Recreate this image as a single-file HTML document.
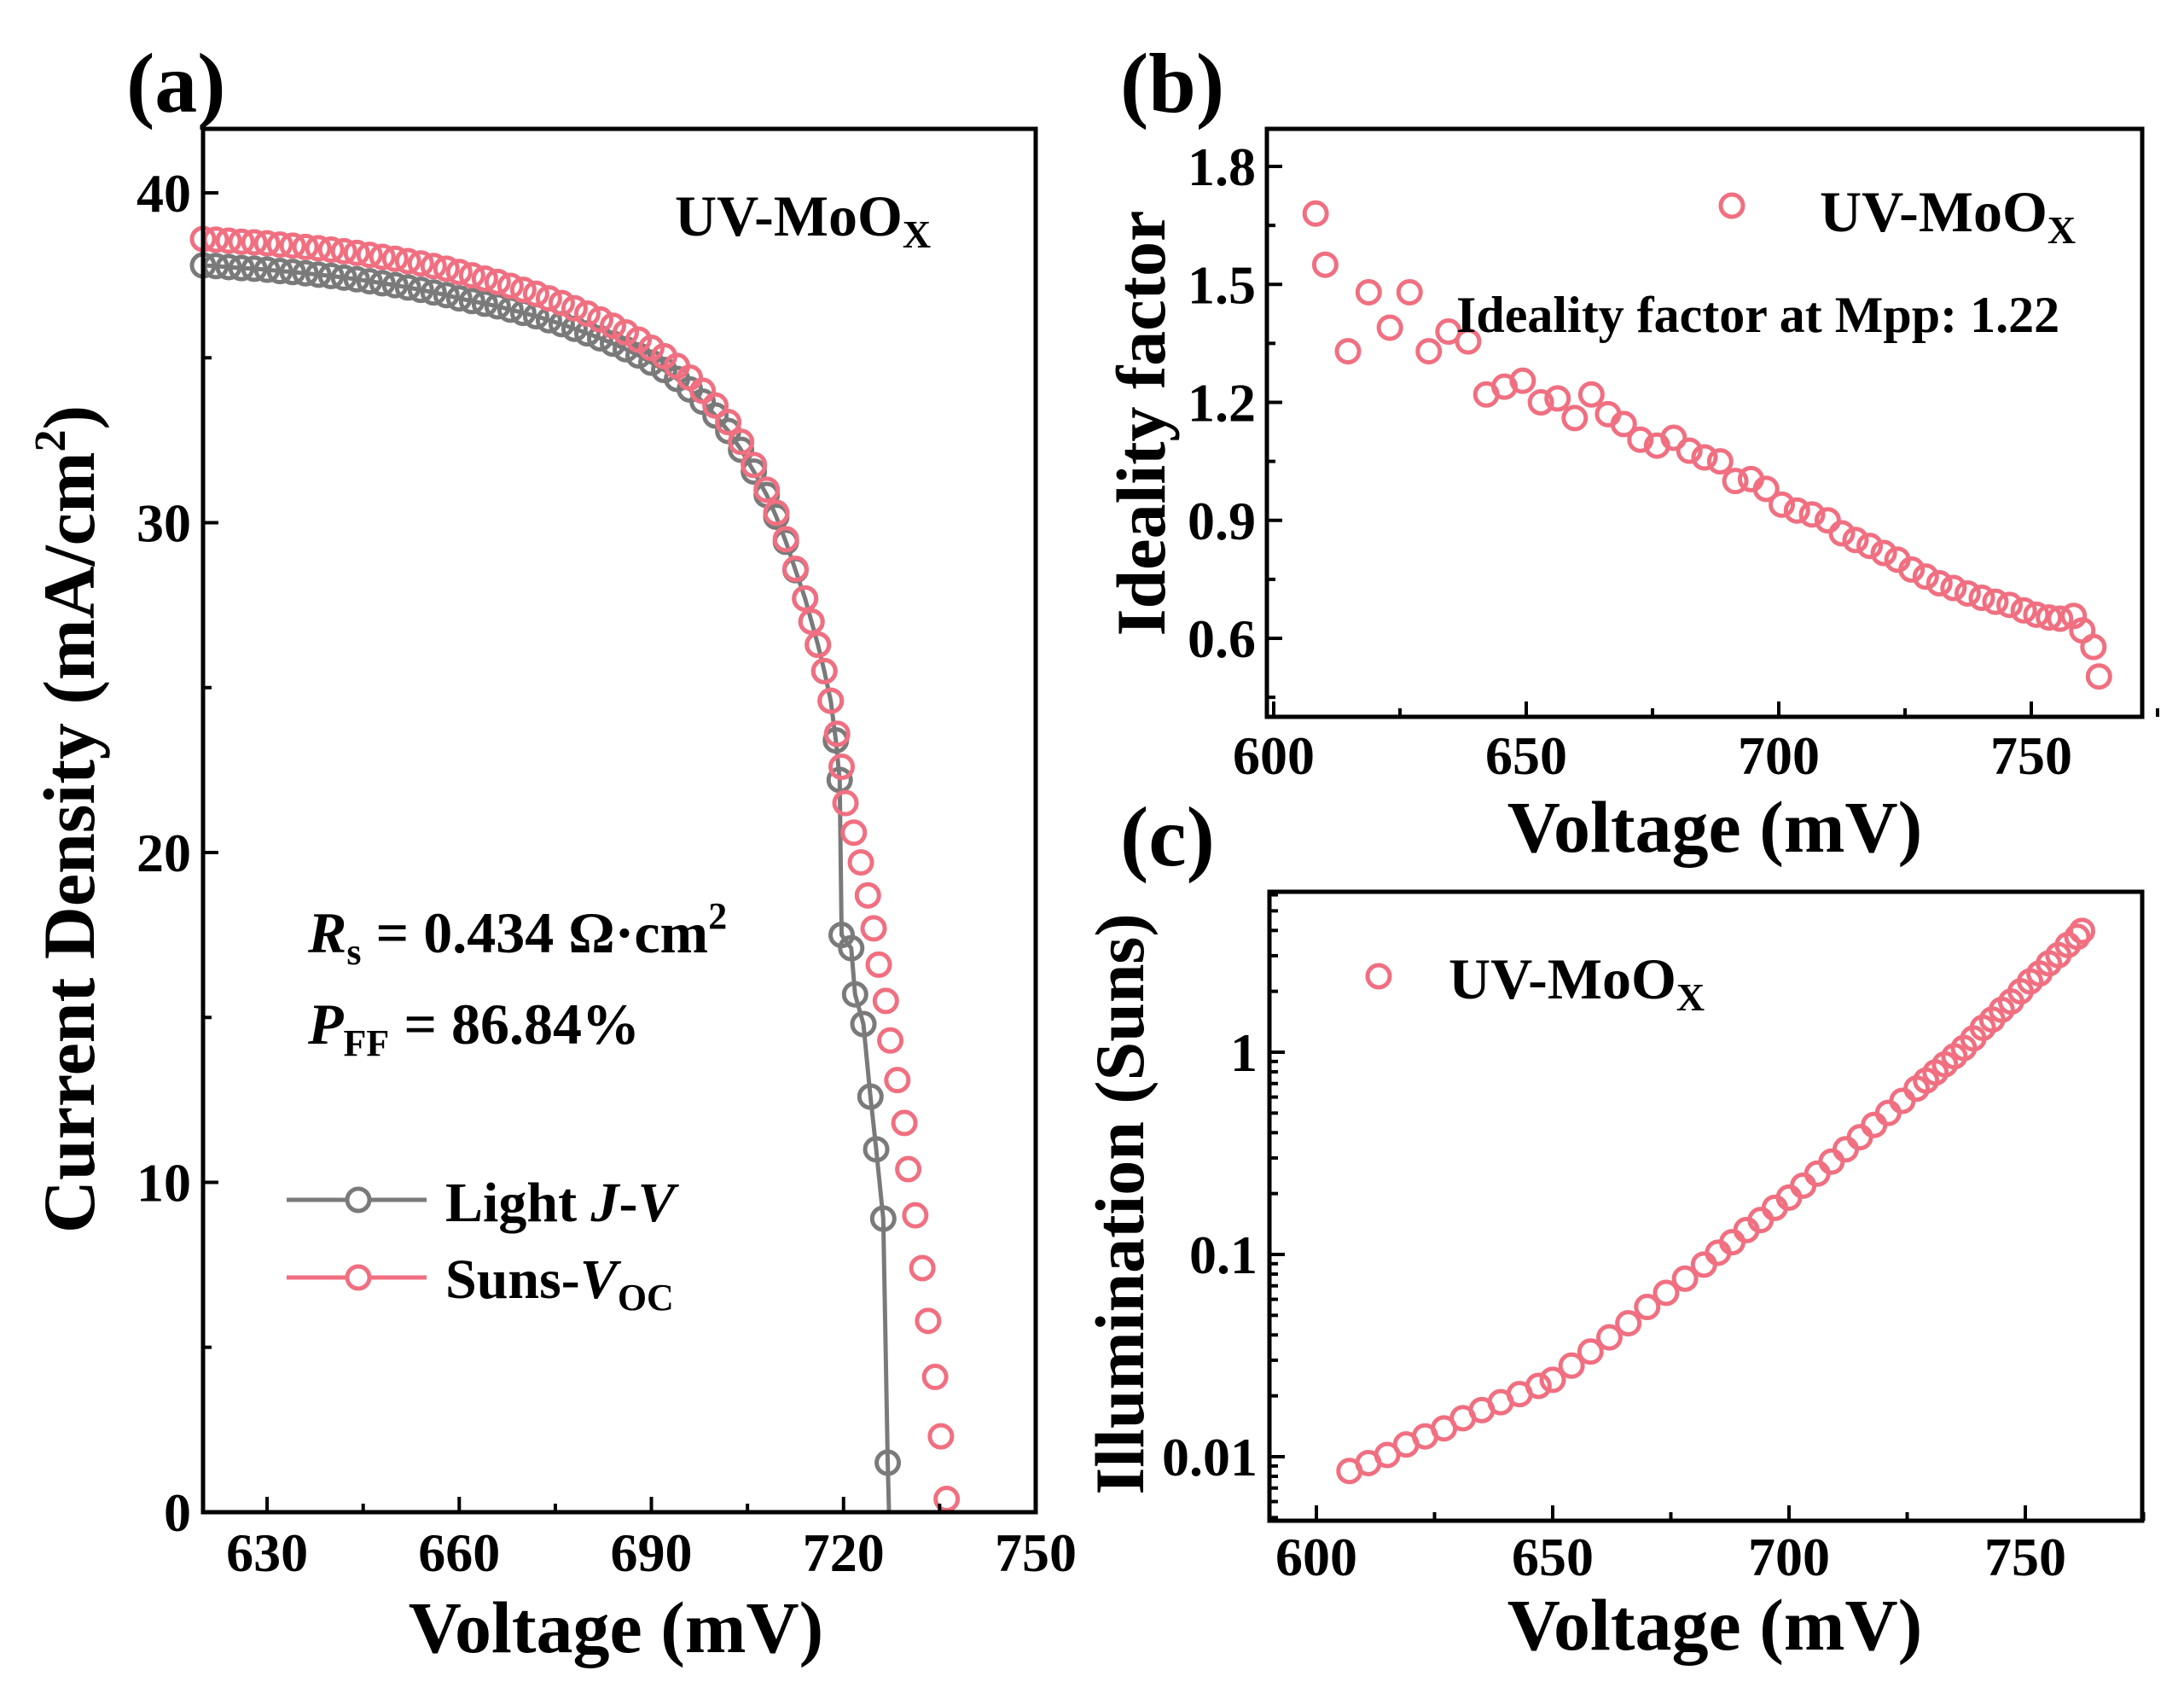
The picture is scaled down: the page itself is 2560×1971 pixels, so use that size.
<!DOCTYPE html>
<html><head><meta charset="utf-8">
<style>
html,body{margin:0;padding:0;background:#fff;}
svg{display:block;font-family:"Liberation Serif",serif;font-weight:bold;}
</style></head>
<body>
<svg id="fig" width="2560" height="1971" viewBox="0 0 2560 1971" xmlns="http://www.w3.org/2000/svg">
<text x="148" y="131" font-size="100">(a)</text>
<text x="1313" y="131" font-size="100">(b)</text>
<text x="1313" y="1014" font-size="100">(c)</text>
</svg>
<script>
// Panel (a) data
const jvPinkV=[620,622,624,626,628,630,632,634,636,638,640,642,644,646,648,650,652,654,656,658,660,662,664,666,668,670,672,674,676,678,680,682,684,686,688,690,692,694,696,698,700,702,704,706,708,709.5,711,712.5,714,715,716,717,718,719,719.7,720.3,721.6,722.7,723.8,724.7,725.5,726.6,727.3,728.4,729.5,730.1,731.2,732.3,733.2,734.3,735.2,736.1];
const jvPinkJ=[38.6,38.58,38.55,38.52,38.5,38.47,38.43,38.4,38.36,38.32,38.28,38.23,38.18,38.12,38.06,38.0,37.93,37.86,37.78,37.7,37.6,37.5,37.4,37.3,37.18,37.06,36.94,36.8,36.66,36.5,36.34,36.16,35.97,35.77,35.55,35.3,35.05,34.75,34.4,34.0,33.55,33.05,32.45,31.75,31.0,30.3,29.5,28.6,27.7,27.0,26.3,25.5,24.6,23.6,22.6,21.5,20.6,19.7,18.7,17.7,16.6,15.5,14.3,13.1,11.8,10.4,9.0,7.4,5.8,4.1,2.3,0.4];
const jvGrayV=[620,622,624,626,628,630,632,634,636,638,640,642,644,646,648,650,652,654,656,658,660,662,664,666,668,670,672,674,676,678,680,682,684,686,688,690,692,694,696,698,700,702,704,706,708,709.5,711,712.5,714,715,716,717,718,718.8,719.4,719.7,721.2,721.8,723.1,724.2,725.1,726.2,726.9];
const jvGrayJ=[37.8,37.78,37.75,37.72,37.7,37.67,37.63,37.6,37.56,37.52,37.48,37.43,37.38,37.32,37.26,37.2,37.13,37.06,36.98,36.9,36.8,36.72,36.64,36.56,36.46,36.36,36.26,36.14,36.02,35.88,35.74,35.59,35.43,35.26,35.07,34.85,34.63,34.36,34.04,33.67,33.25,32.78,32.21,31.55,30.84,30.18,29.42,28.56,27.7,27.0,26.3,25.5,24.6,23.4,22.2,17.5,17.1,15.7,14.8,12.6,11.0,8.9,1.5];
const aXTicks=[630,660,690,720,750];
const aYTicks=[0,10,20,30,40];
// Panel (b) data
const idV=[608.3,610.2,614.7,618.8,623,626.9,630.7,634.6,638.5,642.1,645.7,649.3,652.9,656.2,659.6,662.9,666.2,669.3,672.6,675.9,679.2,682.3,685.3,688.4,691.4,694.5,697.5,700.6,703.6,706.6,709.7,712.5,715.2,718,720.8,723.5,726.3,729.1,731.8,734.6,737.4,740.2,742.9,745.7,748.5,751,753.5,755.7,758.4,760.1,762.3,763.4];
const idN=[1.68,1.55,1.33,1.48,1.39,1.48,1.33,1.38,1.355,1.22,1.24,1.255,1.2,1.21,1.16,1.22,1.17,1.145,1.105,1.09,1.11,1.077,1.06,1.05,1.0,1.005,0.98,0.94,0.925,0.915,0.9,0.867,0.85,0.835,0.817,0.8,0.775,0.757,0.74,0.728,0.714,0.703,0.693,0.685,0.671,0.66,0.653,0.65,0.657,0.62,0.578,0.503];
const bXTicks=[600,650,700,750];
const bYTicks=[0.6,0.9,1.2,1.5,1.8];
const bYLabels=["0.6","0.9","1.2","1.5","1.8"];
// Panel (c) data
const ilV=[607,611,615,619,623,627,631,635,639,643,647,650,654,658,662,666,670,674,678,682,685,688,691,694,697,700,703,706,709,712,715,718,721,724,727,729,731,733,735,737,739,741,743,745,747,749,751,753,755,757,759,761,762];
const ilS=[0.0085,0.0093,0.0102,0.0115,0.0126,0.0138,0.0155,0.017,0.0186,0.0204,0.0224,0.024,0.0282,0.0331,0.0389,0.0457,0.055,0.0646,0.0759,0.0891,0.102,0.115,0.132,0.148,0.17,0.191,0.219,0.251,0.288,0.331,0.38,0.437,0.501,0.575,0.661,0.724,0.794,0.871,0.955,1.05,1.17,1.32,1.45,1.62,1.78,2.0,2.24,2.45,2.75,3.02,3.39,3.72,3.98];
const cXTicks=[600,650,700,750];
const cYTicks=[0.01,0.1,1];
const cYLabels=["0.01","0.1","1"];

const NS="http://www.w3.org/2000/svg";
const svg=document.getElementById('fig');
const PINK="#f06f80", GRAY="#7a7a7a";
function mk(tag,attrs,parent){const e=document.createElementNS(NS,tag);for(const k in attrs)e.setAttribute(k,attrs[k]);(parent||svg).appendChild(e);return e;}
function txt(x,y,s,size,anchor,parent){const t=mk('text',{x:x,y:y,'font-size':size,'text-anchor':anchor||'start'},parent);t.textContent=s;return t;}

// ---------- Panel (a) ----------
const aL=238,aR=1214,aT=151,aB=1772;
const ax=v=>aL+(v-620)/(750-620)*(aR-aL);
const ay=j=>aB-j/40*(aB-226);
const gA=mk('g',{});


const grayLine=mk('polyline',{points:jvGrayV.map((v,i)=>ax(v)+','+ay(jvGrayJ[i])).join(' ')+' '+ax(727.1)+','+ay(0),fill:'none',stroke:GRAY,'stroke-width':5},gA);


jvGrayV.forEach((v,i)=>{const c=mk('circle',{cx:ax(v),cy:ay(jvGrayJ[i]),r:13,fill:'none',stroke:GRAY,'stroke-width':5},gA);

});
jvPinkV.forEach((v,i)=>{const c=mk('circle',{cx:ax(v),cy:ay(jvPinkJ[i]),r:13,fill:'none',stroke:PINK,'stroke-width':5},gA);

});
mk('rect',{x:aL,y:aT,width:aR-aL,height:aB-aT,fill:'none',stroke:'#000','stroke-width':5},gA);
for(let v=615;v<=750;v+=15){const major=aXTicks.includes(v);mk('line',{x1:ax(v),x2:ax(v),y1:aB,y2:aB-(major?18:10),stroke:'#000','stroke-width':4},gA);}
aXTicks.forEach(v=>{const t=txt(ax(v),1841,String(v),64,'middle',gA);

});
for(let j=0;j<=42;j+=5){const major=aYTicks.includes(j);mk('line',{x1:aL,x2:aL+(major?18:10),y1:ay(j),y2:ay(j),stroke:'#000','stroke-width':4},gA);}
aYTicks.forEach(j=>{const t=txt(224,ay(j)+22,String(j),64,'end',gA);

});
</script>
<script>
// ---------- Panel (b) ----------
const bL=1485,bR=2511,bT=151,bB=840;
const bx=v=>1493+(v-600)/50*296;
const by=n=>748-(n-0.6)/0.3*138.25;
const gB=mk('g',{});


idV.forEach((v,i)=>{const c=mk('circle',{cx:bx(v),cy:by(idN[i]),r:13,fill:'none',stroke:PINK,'stroke-width':5},gB);

});
mk('rect',{x:bL,y:bT,width:bR-bL,height:bB-bT,fill:'none',stroke:'#000','stroke-width':5},gB);
for(let v=600;v<=775;v+=25){const major=bXTicks.includes(v);mk('line',{x1:bx(v),x2:bx(v),y1:bB,y2:bB-(major?18:10),stroke:'#000','stroke-width':4},gB);}
bXTicks.forEach(v=>{const t=txt(bx(v),907,String(v),64,'middle',gB);

});
for(let n=0.45;n<=1.9;n+=0.15){const major=bYTicks.some(t=>Math.abs(t-n)<1e-6);const y=by(n);if(y<bT||y>bB)continue;mk('line',{x1:bL,x2:bL+(major?18:10),y1:y,y2:y,stroke:'#000','stroke-width':4},gB);}
bYTicks.forEach((n,i)=>{const t=txt(1472,by(n)+22,bYLabels[i],64,'end',gB);

});

// ---------- Panel (c) ----------
const cL=1488,cR=2511,cT=1045,cB=1782;
const cx=v=>1543+(v-600)/50*277;
const cy=s=>1707-(Math.log10(s)+2)*237;
const gC=mk('g',{});


ilV.forEach((v,i)=>{const c=mk('circle',{cx:cx(v),cy:cy(ilS[i]),r:13,fill:'none',stroke:PINK,'stroke-width':5},gC);

});
mk('rect',{x:cL,y:cT,width:cR-cL,height:cB-cT,fill:'none',stroke:'#000','stroke-width':5},gC);
for(let v=600;v<=775;v+=25){const major=cXTicks.includes(v);mk('line',{x1:cx(v),x2:cx(v),y1:cB,y2:cB-(major?18:10),stroke:'#000','stroke-width':4},gC);}
cXTicks.forEach(v=>{const t=txt(cx(v),1846,String(v),64,'middle',gC);

});
[0.001,0.01,0.1,1,10].forEach(d=>{for(let m=1;m<10;m++){const y=cy(d*m);if(y<cT||y>cB)continue;mk('line',{x1:cL,x2:cL+(m===1?18:10),y1:y,y2:y,stroke:'#000','stroke-width':4},gC);}});
cYTicks.forEach((s,i)=>{const t=txt(1474,cy(s)+22,cYLabels[i],64,'end',gC);

});
</script>
<script>
const html=`
<text x="722" y="1936" font-size="86" text-anchor="middle">Voltage (mV)</text>
<text transform="translate(110,960) rotate(-90)" font-size="86" text-anchor="middle">Current Density (mA/cm<tspan font-size="52" dy="-34">2</tspan><tspan dy="34">)</tspan></text>
<text x="791" y="276" font-size="68">UV-MoO<tspan font-size="46" dy="14">X</tspan></text>
<text x="361" y="1116" font-size="68"><tspan font-style="italic">R</tspan><tspan font-size="44" dy="14">s</tspan><tspan dy="-14"> = 0.434 Ω·cm</tspan><tspan font-size="44" dy="-28">2</tspan></text>
<text x="361" y="1223" font-size="68"><tspan font-style="italic">P</tspan><tspan font-size="44" dy="14">FF</tspan><tspan dy="-14"> = 86.84%</tspan></text>
<g><line x1="336" x2="500" y1="1406" y2="1406" stroke="#7a7a7a" stroke-width="5"/><circle cx="420" cy="1406" r="13" fill="#fff" stroke="#7a7a7a" stroke-width="5"/><text x="522" y="1431" font-size="66">Light <tspan font-style="italic">J</tspan>-<tspan font-style="italic">V</tspan></text></g>
<g><line x1="336" x2="500" y1="1497" y2="1497" stroke="#f06f80" stroke-width="5"/><circle cx="420" cy="1497" r="13" fill="#fff" stroke="#f06f80" stroke-width="5"/><text x="522" y="1521" font-size="66">Suns-<tspan font-style="italic">V</tspan><tspan font-size="44" dy="14">OC</tspan></text></g>
<text x="2010" y="998" font-size="86" text-anchor="middle">Voltage (mV)</text>
<text transform="translate(1365,496) rotate(-90)" font-size="82" text-anchor="middle">Ideality factor</text>
<g><circle cx="2030" cy="241" r="13" fill="none" stroke="#f06f80" stroke-width="5"/><text x="2133" y="271" font-size="68">UV-MoO<tspan font-size="46" dy="14">X</tspan></text></g>
<text x="1707" y="389" font-size="60">Ideality factor at Mpp: 1.22</text>
<text x="2010" y="1933" font-size="86" text-anchor="middle">Voltage (mV)</text>
<text transform="translate(1340,1411) rotate(-90)" font-size="82" text-anchor="middle">Illumination (Suns)</text>
<g><circle cx="1616" cy="1144" r="13" fill="none" stroke="#f06f80" stroke-width="5"/><text x="1698" y="1170" font-size="68">UV-MoO<tspan font-size="46" dy="14">X</tspan></text></g>`;
const tmp=document.createElementNS(NS,'g');
tmp.innerHTML=html;
while(tmp.firstChild)svg.appendChild(tmp.firstChild);
</script>
</body></html>
